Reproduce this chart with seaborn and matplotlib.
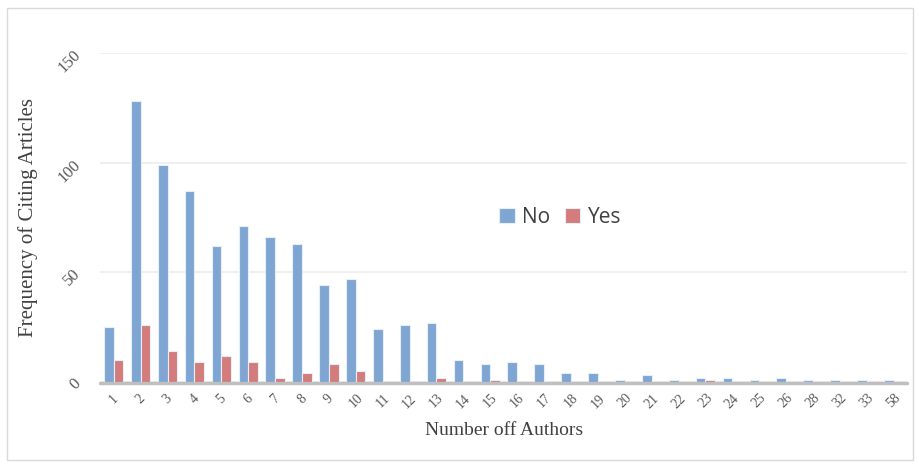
import pandas as pd
import seaborn as sns
import matplotlib.pyplot as plt
from matplotlib.patches import Rectangle

authors = ['1', '2', '3', '4', '5', '6', '7', '8', '9', '10', '11', '12', '13', '14', '15',
           '16', '17', '18', '19', '20', '21', '22', '23', '24', '25', '26', '28', '32', '33', '58']
no_counts = [25, 128, 99, 87, 62, 71, 66, 63, 44, 47, 24, 26, 27, 10, 8,
             9, 8, 4, 4, 1, 3, 1, 2, 2, 1, 2, 1, 1, 1, 1]
yes_counts = [10, 26, 14, 9, 12, 9, 2, 4, 8, 5, 0, 0, 2, 0, 1,
              0, 0, 0, 0, 0, 0, 0, 1, 0, 0, 0, 0, 0, 0, 0]

df = pd.DataFrame({
    'authors': authors * 2,
    'count': no_counts + yes_counts,
    'group': ['No'] * len(authors) + ['Yes'] * len(authors),
})

sns.set_style('white')
plt.rcParams['font.family'] = ['Liberation Serif', 'DejaVu Serif']

fig = plt.figure(figsize=(9.2, 4.68), dpi=100)
ax = fig.add_axes([0.109, 0.184, 0.877, 0.703])

sns.barplot(data=df, x='authors', y='count', hue='group', order=authors,
            hue_order=['No', 'Yes'], palette={'No': '#7fa6d3', 'Yes': '#d47b7b'},
            saturation=1, width=0.72, edgecolor='#e6eef8', linewidth=0.8,
            zorder=3, ax=ax)

ax.set_ylim(0, 150)
ax.set_xlim(-0.5, len(authors) - 0.5)
ax.set_yticks([0, 50, 100, 150])
ax.yaxis.grid(True, color='#ececec', linewidth=1.2)
ax.set_axisbelow(True)
for s in ['top', 'right', 'left', 'bottom']:
    ax.spines[s].set_visible(False)
# grey category axis line, drawn under the bars
ax.axhline(-0.6, color='#bfbfbf', linewidth=2.5, zorder=2, clip_on=False)

ax.tick_params(axis='x', length=0, pad=7, labelsize=10, labelcolor='#595959')
ax.tick_params(axis='y', length=0, pad=12, labelsize=12, labelcolor='#595959')
for lbl in ax.get_xticklabels():
    lbl.set_rotation(45)
for lbl in ax.get_yticklabels():
    lbl.set_rotation(45)

ax.set_xlabel('Number off Authors', fontsize=14, color='#404040', labelpad=8)
ax.set_ylabel('Frequency of Citing Articles', fontsize=15, color='#404040', labelpad=12)

leg = ax.legend(loc='center', bbox_to_anchor=(0.57, 0.5), ncol=2, frameon=False,
                prop={'family': 'Open Sans', 'size': 15}, handlelength=0.75,
                handleheight=0.75, columnspacing=0.7, handletextpad=0.35)
for t in leg.get_texts():
    t.set_color('#404040')

fig.patches.append(Rectangle((0.008, 0.017), 0.984, 0.966, transform=fig.transFigure,
                             fill=False, edgecolor='#d9d9d9', linewidth=1))

fig.savefig('out.png', dpi=100, facecolor='white')
